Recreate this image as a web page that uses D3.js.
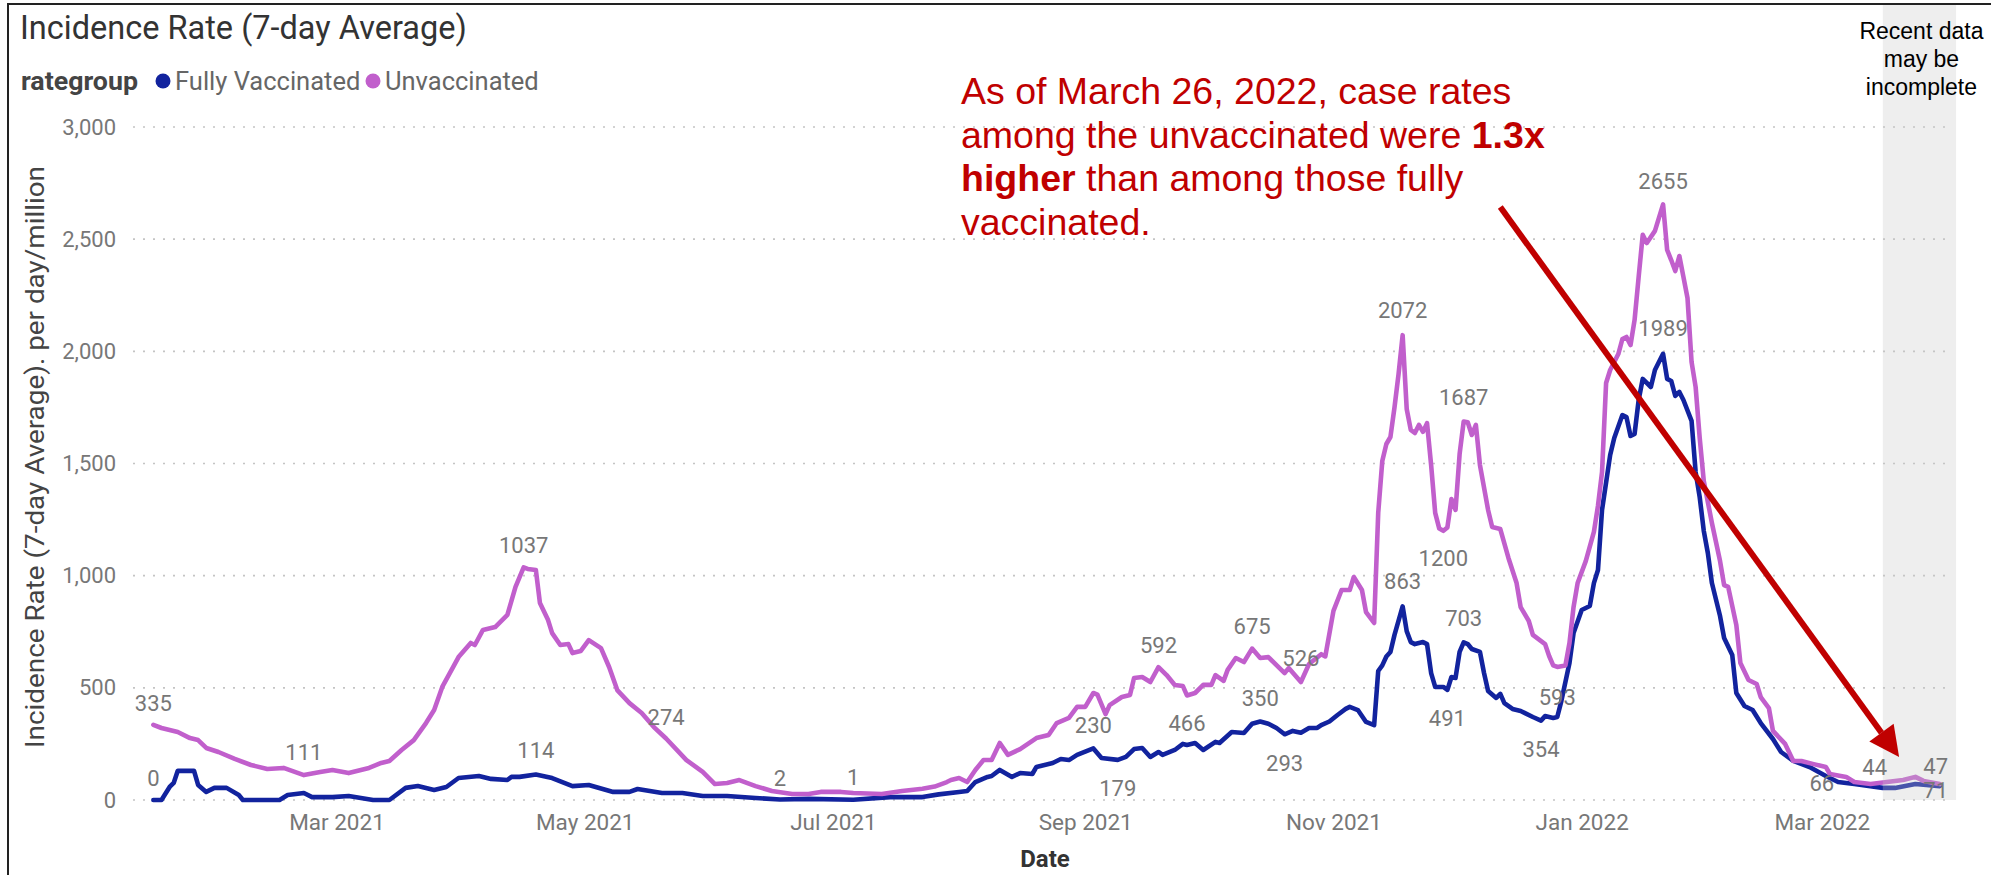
<!DOCTYPE html>
<html><head><meta charset="utf-8">
<script src="https://cdn.jsdelivr.net/npm/d3@7"></script>
<style>
html,body{margin:0;padding:0;background:#fff;}
svg{display:block;}
</style></head>
<body>
<svg id="chart" width="1991" height="875"></svg>
<script>
// ---------- DATA ----------
const unvaxDates = ["2021-01-15","2021-01-17","2021-01-21","2021-01-24","2021-01-26","2021-01-28","2021-01-31","2021-02-04","2021-02-08","2021-02-12","2021-02-16","2021-02-21","2021-02-25","2021-02-28","2021-03-04","2021-03-09","2021-03-12","2021-03-14","2021-03-17","2021-03-20","2021-03-23","2021-03-25","2021-03-27","2021-03-31","2021-04-03","2021-04-04","2021-04-06","2021-04-09","2021-04-12","2021-04-14","2021-04-16","2021-04-17","2021-04-19","2021-04-20","2021-04-22","2021-04-23","2021-04-25","2021-04-27","2021-04-28","2021-04-30","2021-05-02","2021-05-05","2021-05-07","2021-05-09","2021-05-12","2021-05-15","2021-05-18","2021-05-21","2021-05-26","2021-05-30","2021-06-02","2021-06-05","2021-06-08","2021-06-12","2021-06-16","2021-06-21","2021-06-25","2021-06-28","2021-07-03","2021-07-06","2021-07-13","2021-07-18","2021-07-23","2021-07-26","2021-07-29","2021-07-30","2021-08-01","2021-08-03","2021-08-05","2021-08-07","2021-08-09","2021-08-11","2021-08-13","2021-08-16","2021-08-20","2021-08-23","2021-08-25","2021-08-28","2021-08-30","2021-09-01","2021-09-03","2021-09-04","2021-09-06","2021-09-07","2021-09-10","2021-09-12","2021-09-13","2021-09-15","2021-09-17","2021-09-19","2021-09-21","2021-09-23","2021-09-25","2021-09-26","2021-09-28","2021-09-30","2021-10-02","2021-10-03","2021-10-05","2021-10-06","2021-10-08","2021-10-10","2021-10-12","2021-10-14","2021-10-16","2021-10-20","2021-10-21","2021-10-24","2021-10-26","2021-10-29","2021-10-30","2021-11-01","2021-11-03","2021-11-05","2021-11-06","2021-11-08","2021-11-09","2021-11-11","2021-11-12","2021-11-13","2021-11-14","2021-11-15","2021-11-16","2021-11-17","2021-11-18","2021-11-19","2021-11-20","2021-11-21","2021-11-22","2021-11-23","2021-11-24","2021-11-25","2021-11-26","2021-11-27","2021-11-28","2021-11-29","2021-11-30","2021-12-01","2021-12-02","2021-12-03","2021-12-04","2021-12-05","2021-12-06","2021-12-07","2021-12-09","2021-12-10","2021-12-12","2021-12-14","2021-12-16","2021-12-17","2021-12-19","2021-12-20","2021-12-23","2021-12-24","2021-12-25","2021-12-26","2021-12-28","2021-12-29","2021-12-30","2021-12-31","2022-01-02","2022-01-04","2022-01-05","2022-01-06","2022-01-07","2022-01-08","2022-01-10","2022-01-11","2022-01-12","2022-01-13","2022-01-14","2022-01-15","2022-01-16","2022-01-17","2022-01-19","2022-01-21","2022-01-22","2022-01-23","2022-01-24","2022-01-25","2022-01-26","2022-01-27","2022-01-28","2022-01-29","2022-01-30","2022-01-31","2022-02-02","2022-02-04","2022-02-05","2022-02-06","2022-02-08","2022-02-09","2022-02-11","2022-02-13","2022-02-14","2022-02-16","2022-02-17","2022-02-20","2022-02-22","2022-02-24","2022-02-27","2022-03-02","2022-03-03","2022-03-07","2022-03-09","2022-03-13","2022-03-17","2022-03-21","2022-03-24","2022-03-26","2022-03-30"];
const unvaxValues = [335,321,303,276,267,232,214,183,156,138,143,111,125,134,120,143,165,174,223,267,343,401,504,637,700,691,758,771,825,950,1037,1030,1025,878,802,744,691,695,655,664,713,677,593,490,432,388,325,274,178,125,71,76,89,62,40,27,27,36,36,31,27,40,50,60,80,89,98,80,134,178,178,254,201,227,276,290,343,366,415,415,477,470,383,423,459,468,544,548,526,592,557,513,508,466,477,513,513,557,531,580,633,615,675,633,637,566,588,526,606,650,640,843,936,936,994,936,838,789,1280,1511,1587,1618,1750,1899,2072,1743,1650,1636,1672,1641,1680,1493,1280,1210,1200,1215,1342,1293,1542,1687,1684,1627,1672,1493,1293,1217,1208,1079,967,860,798,736,695,642,600,593,600,700,860,967,1065,1195,1311,1462,1859,1917,1988,2055,2064,2028,2140,2332,2519,2483,2537,2655,2452,2407,2358,2425,2332,2238,1953,1841,1614,1422,1235,1065,958,950,780,611,535,517,459,410,308,250,174,174,160,147,116,103,80,71,80,89,103,85,71];

const vaxDates = ["2021-01-15","2021-01-17","2021-01-19","2021-01-20","2021-01-21","2021-01-25","2021-01-26","2021-01-28","2021-01-30","2021-02-02","2021-02-05","2021-02-06","2021-02-15","2021-02-17","2021-02-21","2021-02-23","2021-02-28","2021-03-04","2021-03-10","2021-03-14","2021-03-18","2021-03-21","2021-03-25","2021-03-28","2021-03-31","2021-04-05","2021-04-08","2021-04-12","2021-04-13","2021-04-15","2021-04-19","2021-04-23","2021-04-28","2021-05-02","2021-05-08","2021-05-12","2021-05-14","2021-05-20","2021-05-25","2021-05-30","2021-06-05","2021-06-12","2021-06-18","2021-06-25","2021-07-06","2021-07-15","2021-07-23","2021-07-27","2021-08-01","2021-08-03","2021-08-05","2021-08-08","2021-08-09","2021-08-11","2021-08-14","2021-08-16","2021-08-19","2021-08-20","2021-08-24","2021-08-26","2021-08-28","2021-08-30","2021-09-03","2021-09-05","2021-09-09","2021-09-11","2021-09-13","2021-09-15","2021-09-17","2021-09-19","2021-09-20","2021-09-23","2021-09-25","2021-09-26","2021-09-28","2021-09-30","2021-10-03","2021-10-04","2021-10-07","2021-10-10","2021-10-12","2021-10-14","2021-10-16","2021-10-18","2021-10-20","2021-10-22","2021-10-24","2021-10-26","2021-10-28","2021-10-29","2021-10-31","2021-11-02","2021-11-04","2021-11-05","2021-11-07","2021-11-09","2021-11-11","2021-11-12","2021-11-13","2021-11-14","2021-11-15","2021-11-16","2021-11-18","2021-11-19","2021-11-20","2021-11-21","2021-11-23","2021-11-24","2021-11-25","2021-11-26","2021-11-28","2021-11-29","2021-11-30","2021-12-01","2021-12-02","2021-12-03","2021-12-04","2021-12-05","2021-12-07","2021-12-08","2021-12-09","2021-12-11","2021-12-12","2021-12-13","2021-12-15","2021-12-17","2021-12-20","2021-12-22","2021-12-23","2021-12-25","2021-12-26","2021-12-27","2021-12-29","2021-12-30","2022-01-01","2022-01-03","2022-01-04","2022-01-05","2022-01-06","2022-01-08","2022-01-09","2022-01-11","2022-01-12","2022-01-13","2022-01-14","2022-01-15","2022-01-16","2022-01-18","2022-01-19","2022-01-21","2022-01-22","2022-01-23","2022-01-24","2022-01-25","2022-01-26","2022-01-28","2022-01-29","2022-01-30","2022-01-31","2022-02-01","2022-02-02","2022-02-04","2022-02-05","2022-02-07","2022-02-08","2022-02-10","2022-02-12","2022-02-14","2022-02-17","2022-02-19","2022-02-22","2022-02-26","2022-03-02","2022-03-05","2022-03-09","2022-03-16","2022-03-19","2022-03-24","2022-03-30"];
const vaxValues = [0,0,58,76,130,130,67,36,54,54,22,0,0,22,31,13,13,18,0,0,54,62,45,58,98,107,94,89,103,103,114,98,62,67,36,36,49,31,31,18,18,9,2,5,1,13,13,25,36,40,80,103,107,134,103,120,116,147,165,183,178,201,230,187,179,192,227,232,192,214,201,223,250,245,254,223,259,254,303,299,340,350,340,321,293,308,300,321,321,334,350,379,406,415,401,348,334,575,600,640,660,736,863,753,704,695,704,695,566,504,504,491,548,544,660,703,695,673,660,566,486,455,473,432,406,397,370,354,374,366,370,441,611,744,847,865,967,1025,1293,1538,1614,1716,1707,1623,1632,1783,1877,1841,1917,1989,1877,1868,1801,1819,1783,1690,1462,1350,1200,1101,967,820,722,646,477,419,401,343,272,214,174,147,107,80,71,54,54,71,62];

const seriesNames = ["Fully Vaccinated","Unvaccinated"];
const seriesColors = ["#12239E","#C15FCC"];

const yTickValues = [0,500,1000,1500,2000,2500,3000];
const xTickDates = ["2021-03-01","2021-05-01","2021-07-01","2021-09-01","2021-11-01","2022-01-01","2022-03-01"];
const xTickLabels = ["Mar 2021","May 2021","Jul 2021","Sep 2021","Nov 2021","Jan 2022","Mar 2022"];

// data labels: series (0 = vaccinated, 1 = unvaccinated), date, text, vertical offset of label centre from point
const labelSeries = [1,0,1,1,0,1,0,0,0,0,1,1,1,0,1,0,1,1,1,0,0,0,0,1,1,0,0,1,1,0];
const labelDates  = ["2021-01-15","2021-01-15","2021-02-21","2021-04-16","2021-04-19","2021-05-21","2021-06-18","2021-07-06","2021-09-03","2021-09-09","2021-09-19","2021-09-26","2021-10-12","2021-10-14","2021-10-24","2021-10-20","2021-11-18","2021-12-03","2021-11-28","2021-11-18","2021-12-03","2021-11-29","2021-12-22","2021-12-26","2022-01-21","2022-01-21","2022-03-01","2022-03-14","2022-03-29","2022-03-29"];
const labelTexts  = ["335","0","111","1037","114","274","2","1","230","179","592","466","675","350","526","293","2072","1687","1200","863","703","491","354","593","2655","1989","66","44","47","71"];
const labelOffsets= [-22,-22,-23,-22,-24,-22,-22,-23,-23,28,-22,28,-23,-23,-24,29,-25,-25,27,-25,-24,28,28,30,-23,-26,9,-17,-17,4];

const bandStart = "2022-03-16", bandEnd = "2022-04-03";
const arrowFrom = ["2021-12-12", 2643], arrowTo = ["2022-03-20", 192];

// ---------- CHART ----------
const W = 1991, H = 875;
const svg = d3.select("#chart");
const parse = d3.utcParse("%Y-%m-%d");
const x = d3.scaleUtc().domain([parse("2021-01-10"), parse("2022-04-02")]).range([133, 1952]);
const y = d3.scaleLinear().domain([0, 3000]).range([800, 127]);

const series = [
  vaxDates.map((d,i)=>({date:parse(d), v:vaxValues[i]})),
  unvaxDates.map((d,i)=>({date:parse(d), v:unvaxValues[i]}))
];

// frame
svg.append("path").attr("d", `M8,${H+5}V4H${W+5}`).attr("fill","none").attr("stroke","#222").attr("stroke-width",2);

// title
svg.append("text").attr("x",20).attr("y",39).text("Incidence Rate (7-day Average)")
  .style("font-family","Roboto, sans-serif").style("font-size","32.5px").attr("fill","#333");

// legend
const lg = svg.append("g").style("font-family","Roboto, sans-serif").style("font-size","25.5px");
lg.append("text").attr("x",21).attr("y",90).text("rategroup").attr("font-weight","bold").attr("fill","#444")
  .attr("textLength",117).attr("lengthAdjust","spacingAndGlyphs");
const legX = [163, 373];
seriesNames.forEach((n,i)=>{
  lg.append("circle").attr("cx",legX[i]).attr("cy",81).attr("r",7.5).attr("fill",seriesColors[i]);
  lg.append("text").attr("x",legX[i]+12).attr("y",90).text(n).attr("fill","#666");
});

// gridlines
svg.append("g").selectAll("line").data(yTickValues).join("line")
  .attr("x1",133).attr("x2",1952).attr("y1",d=>y(d)).attr("y2",d=>y(d))
  .attr("stroke","#c4c4c4").attr("stroke-width",1.6).attr("stroke-dasharray","2,8");

// y axis
const yAxis = d3.axisLeft(y).tickValues(yTickValues).tickFormat(d3.format(",")).tickSize(0).tickPadding(0);
const gy = svg.append("g").attr("transform","translate(116,0)").call(yAxis);
gy.select(".domain").remove();
gy.selectAll("text").style("font-family","Roboto, sans-serif").style("font-size","22px").attr("fill","#777");

// x axis
const xAxis = d3.axisBottom(x).tickValues(xTickDates.map(parse)).tickFormat((d,i)=>xTickLabels[i]).tickSize(0).tickPadding(0);
const gx = svg.append("g").attr("transform","translate(0,830)").call(xAxis);
gx.select(".domain").remove();
gx.selectAll("text").attr("y",0).attr("dy",0).style("font-family","Roboto, sans-serif").style("font-size","22.5px").attr("fill","#777");

// axis titles
svg.append("text").attr("transform","translate(44,457) rotate(-90)").attr("text-anchor","middle")
  .attr("textLength",582).attr("lengthAdjust","spacingAndGlyphs")
  .text("Incidence Rate (7-day Average). per day/million")
  .style("font-family","Roboto, sans-serif").style("font-size","25px").attr("fill","#444");
svg.append("text").attr("x",1045).attr("y",867).attr("text-anchor","middle").text("Date")
  .style("font-family","Roboto, sans-serif").style("font-size","24px").attr("font-weight","bold").attr("fill","#333");

// lines
const line = d3.line().x(d=>x(d.date)).y(d=>y(d.v));
series.forEach((s,i)=>{
  svg.append("path").datum(s).attr("d",line).attr("fill","none")
    .attr("stroke",seriesColors[i]).attr("stroke-width",4.6).attr("stroke-linejoin","round").attr("stroke-linecap","round");
});

// recent data band
svg.append("rect").attr("x",x(parse(bandStart))).attr("y",5)
  .attr("width",x(parse(bandEnd))-x(parse(bandStart))).attr("height",y(0)-5)
  .attr("fill","#c8c8c8").attr("opacity",0.3);
const rt = svg.append("text").attr("text-anchor","middle").style("font-family","'Liberation Sans', Arial, sans-serif").style("font-size","23px").attr("fill","#000");
["Recent data","may be","incomplete"].forEach((t,i)=>{
  rt.append("tspan").attr("x",(x(parse(bandStart))+x(parse(bandEnd)))/2 + 2).attr("y",39+i*28).text(t);
});

// data labels
function valueAt(s, date){
  const i = d3.bisector(d=>d.date).left(s, date);
  if (i<=0) return s[0].v;
  if (i>=s.length) return s[s.length-1].v;
  const a=s[i-1], b=s[i];
  const t=(date-a.date)/(b.date-a.date);
  return a.v + t*(b.v-a.v);
}
svg.append("g").selectAll("text").data(labelTexts).join("text")
  .attr("x",(d,i)=>x(parse(labelDates[i])))
  .attr("y",(d,i)=>y(valueAt(series[labelSeries[i]], parse(labelDates[i]))) + labelOffsets[i] + 8)
  .attr("text-anchor","middle").text(d=>d)
  .style("font-family","Roboto, sans-serif").style("font-size","22px").attr("fill","#777");

// annotation arrow
const ax1 = x(parse(arrowFrom[0])), ay1 = y(arrowFrom[1]);
const ax2 = x(parse(arrowTo[0])), ay2 = y(arrowTo[1]);
const ang = Math.atan2(ay2-ay1, ax2-ax1);
const hl = 30, hw = 15;
const bx = ax2 - hl*Math.cos(ang), by = ay2 - hl*Math.sin(ang);
svg.append("line").attr("x1",ax1).attr("y1",ay1).attr("x2",bx).attr("y2",by)
  .attr("stroke","#C00000").attr("stroke-width",6);
svg.append("path").attr("d",`M${ax2},${ay2}L${bx+hw*Math.sin(ang)},${by-hw*Math.cos(ang)}L${bx-hw*Math.sin(ang)},${by+hw*Math.cos(ang)}Z`)
  .attr("fill","#C00000");

// annotation text
const annLines = [
  [["As of March 26, 2022, case rates",false]],
  [["among the unvaccinated were ",false],["1.3x",true]],
  [["higher",true],[" than among those fully",false]],
  [["vaccinated.",false]]
];
annLines.forEach((ln,i)=>{
  const t = svg.append("text").attr("x",961).attr("y",104+i*43.5)
    .style("font-family","'Liberation Sans', Arial, sans-serif").style("font-size","37.5px").attr("fill","#C00000")
    .attr("xml:space","preserve");
  ln.forEach(([s,b])=>t.append("tspan").text(s).attr("font-weight",b?"bold":"normal"));
});
</script>
</body></html>
